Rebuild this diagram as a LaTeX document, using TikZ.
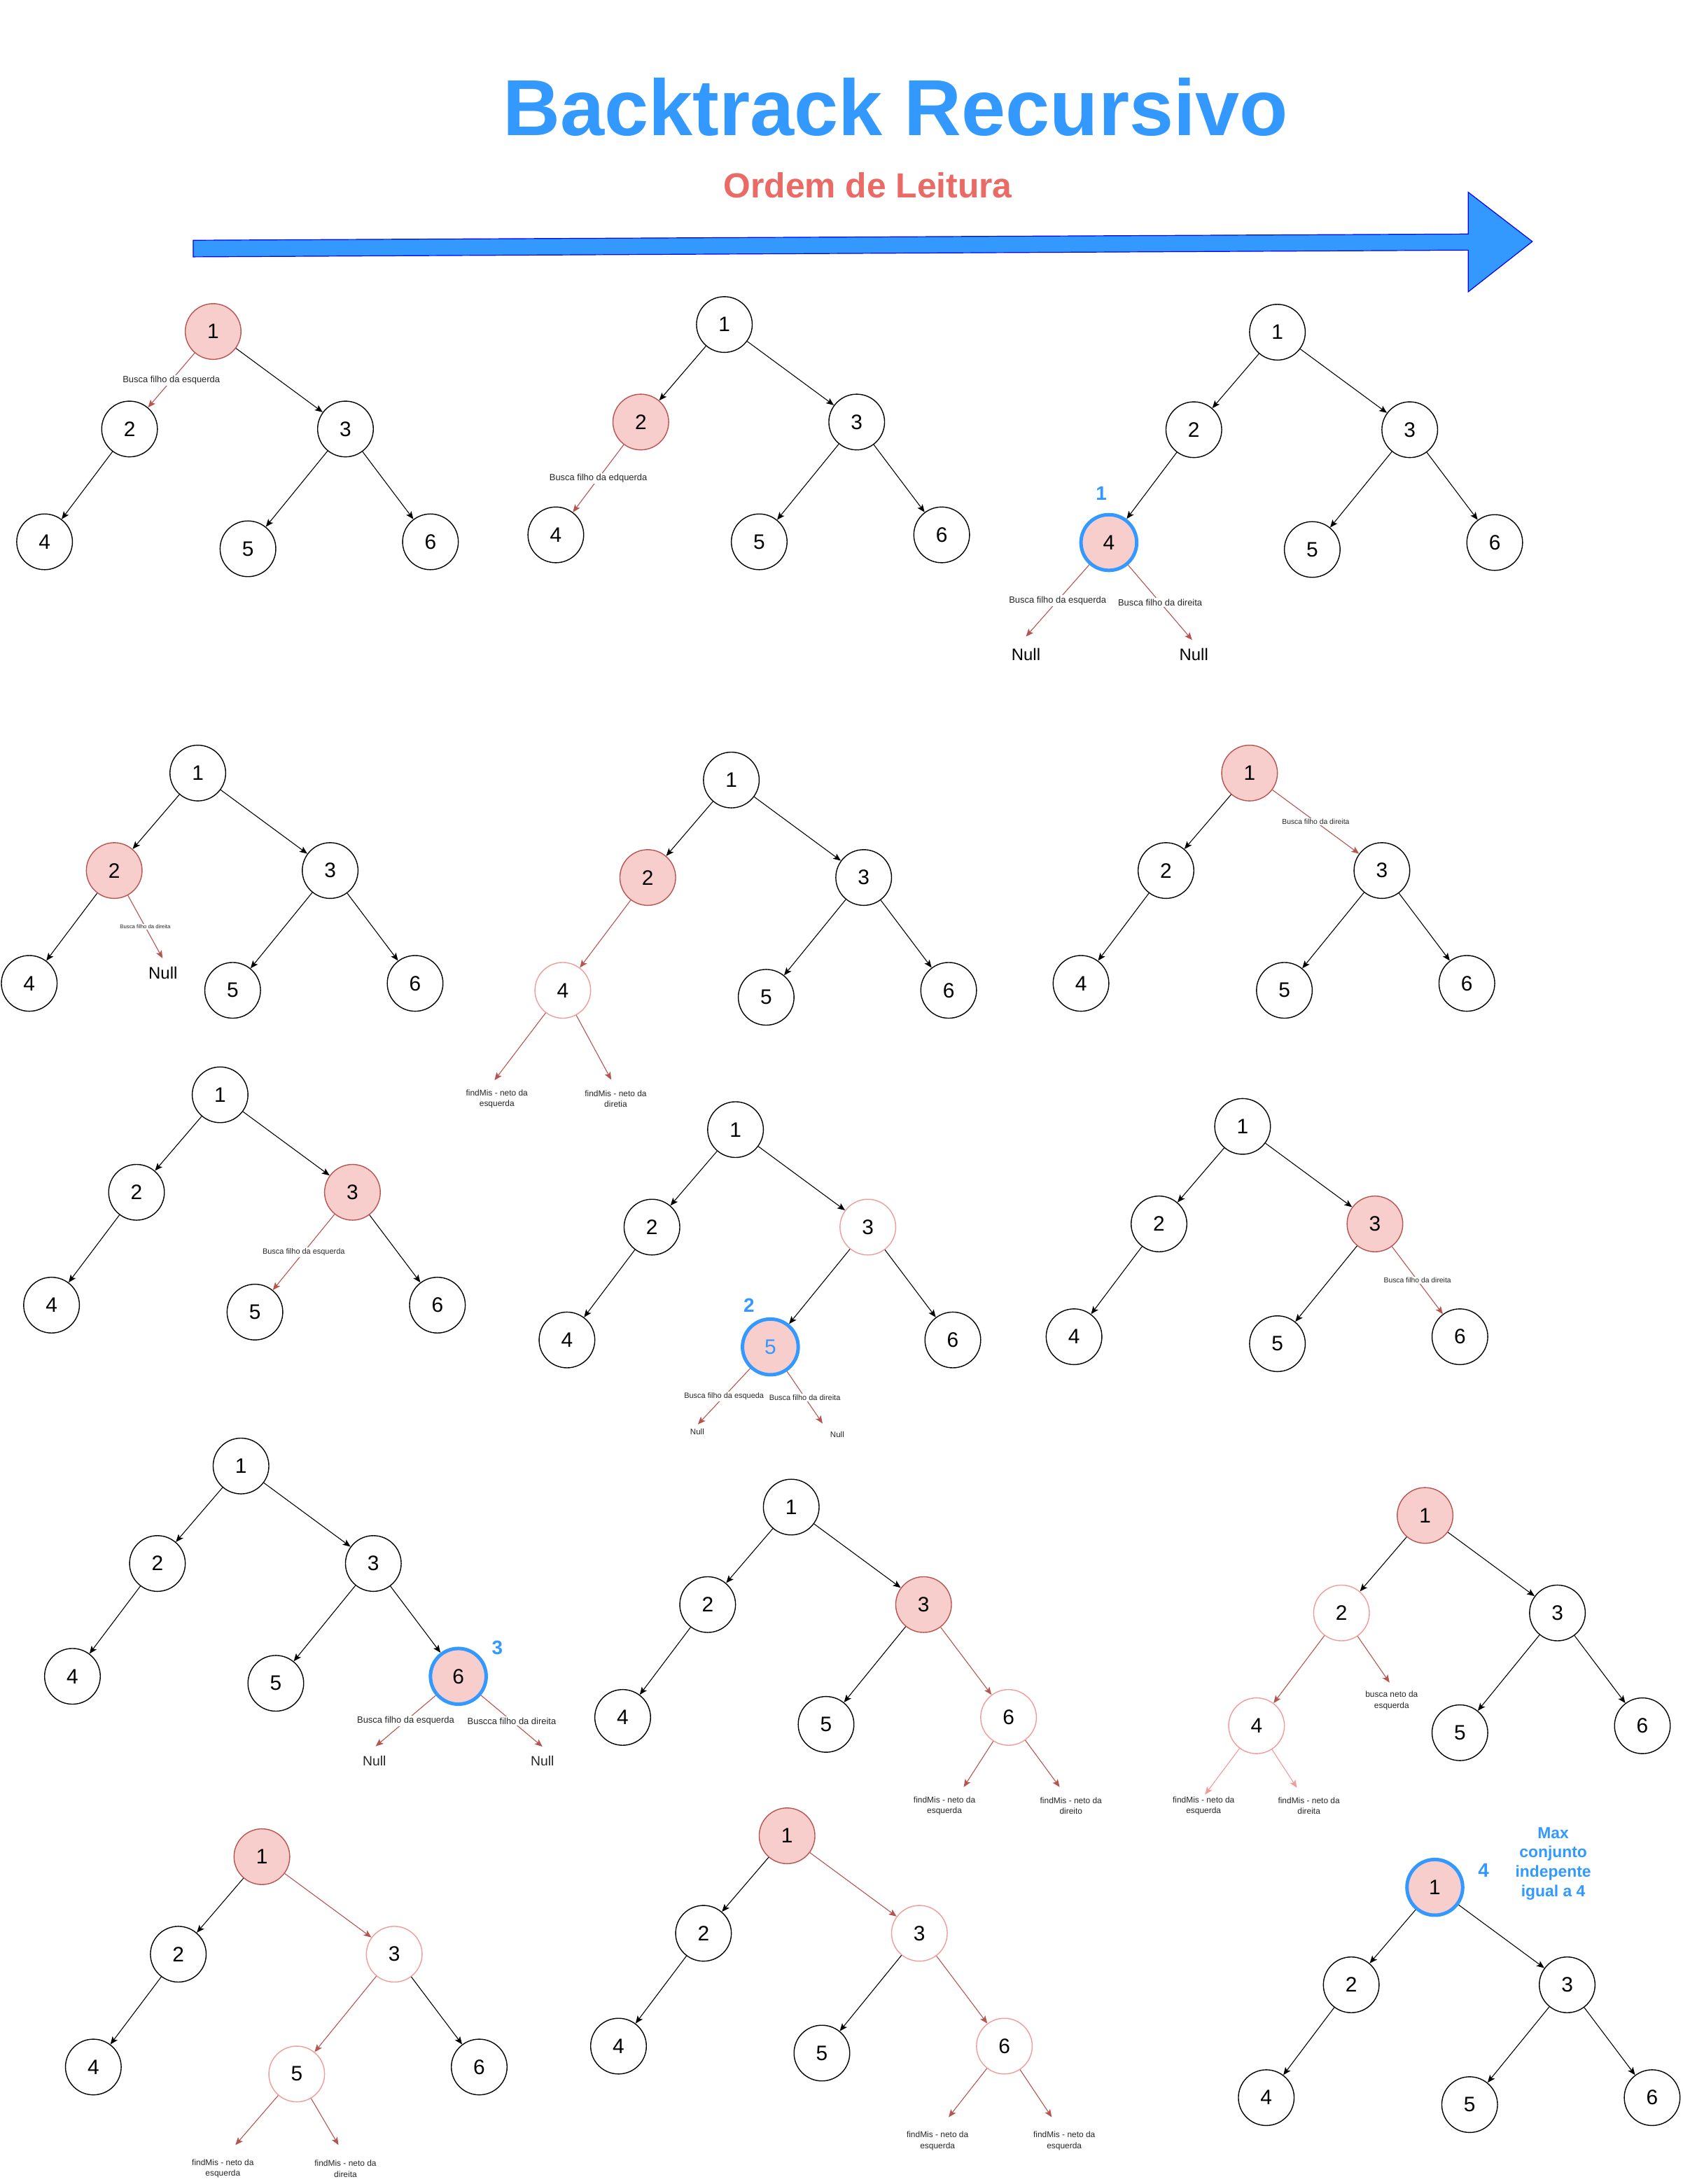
\documentclass[tikz,border=0pt]{standalone}
\usepackage{fontspec}
\setmainfont{Liberation Sans}
\usetikzlibrary{arrows.meta}
\definecolor{pinkF}{HTML}{F8CECC}
\definecolor{redD}{HTML}{B85450}
\definecolor{lightR}{HTML}{F19C99}
\definecolor{blueB}{HTML}{3399FF}
\definecolor{ordR}{HTML}{EA6B66}
\definecolor{arrS}{HTML}{0000FF}
\newcommand\mktree[9]{%
\begin{scope}[shift={(#2,#3)}]
\node[#4] (#1-1) at (0,0) {1};
\node[#5] (#1-2) at (-60,70) {2};
\node[#6] (#1-3) at (95,70) {3};
\node[#7] (#1-4) at (-121,151) {4};
\node[#8] (#1-5) at (25,156) {5};
\node[#9] (#1-6) at (156,151) {6};
\end{scope}}
\begin{document}
\begin{tikzpicture}[x=1pt,y=-1pt,
 nd/.style={circle,draw=black,line width=0.7pt,minimum size=40pt,inner sep=0pt,fill=white,font=\fontsize{15}{17}\selectfont},
 vis/.style={nd,fill=pinkF,draw=redD},
 cur/.style={nd,fill=pinkF,draw=blueB,line width=2.5pt},
 lr/.style={nd,draw=lightR},
 ed/.style={-{Stealth[length=5.5pt,width=4.5pt,inset=1.2pt]},line width=0.55pt},
 bk/.style={ed,black},
 rd/.style={ed,redD},
 lrd/.style={ed,lightR},
 lab/.style={fill=white,inner sep=0.8pt,text=black!85},
 l65/.style={lab,font=\fontsize{6.5}{7.5}\selectfont},
 l55/.style={lab,font=\fontsize{5.5}{6.5}\selectfont},
 l52/.style={lab,font=\fontsize{5.2}{6.2}\selectfont},
 l39/.style={lab,font=\fontsize{3.9}{4.5}\selectfont},
 fm/.style={inner sep=0pt,align=center,text=black!85,font=\fontsize{6}{7.8}\selectfont},
 nulA/.style={inner sep=0pt,font=\fontsize{12}{14}\selectfont},
 nulJ/.style={inner sep=0pt,font=\fontsize{9.7}{11}\selectfont,text=black!85},
 nulH/.style={inner sep=0pt,font=\fontsize{5.8}{7}\selectfont,text=black!85},
 num/.style={inner sep=0pt,text=blueB,font=\bfseries\fontsize{14}{16}\selectfont}
]
\useasboundingbox (0,0) rectangle (1208,1568);
\fill[white] (0,0) rectangle (1208,1568);

% title
\node[inner sep=0pt,text=blueB,font=\bfseries\fontsize{57}{64}\selectfont] (title) at (643,77) {Backtrack Recursivo};
\node[inner sep=0pt,text=ordR,font=\bfseries\fontsize{25}{28}\selectfont] (ordem) at (623,133) {Ordem de Leitura};
\draw[fill=blueB,draw=arrS,line width=0.6pt,line join=miter]
 (138.7,172.5) -- (1054,168) -- (1054,138) -- (1100,173.4) -- (1054,209.5) -- (1054,179.6) -- (138.7,184.4) -- cycle;

% Tree A
\mktree{A}{153}{238}{vis}{nd}{nd}{nd}{nd}{nd}
\draw[rd] (A-1) -- node[l65]{Busca filho da esquerda} (A-2);
\draw[bk] (A-1) -- (A-3);
\draw[bk] (A-2) -- (A-4);
\draw[bk] (A-3) -- (A-5);
\draw[bk] (A-3) -- (A-6);

% Tree B
\mktree{B}{520}{233}{nd}{vis}{nd}{nd}{nd}{nd}
\draw[bk] (B-1) -- (B-2);
\draw[bk] (B-1) -- (B-3);
\draw[rd] (B-2) -- node[l65]{Busca filho da edquerda} (B-4);
\draw[bk] (B-3) -- (B-5);
\draw[bk] (B-3) -- (B-6);

% Tree C
\mktree{C}{917}{238.5}{nd}{nd}{nd}{cur}{nd}{nd}
\draw[bk] (C-1) -- (C-2);
\draw[bk] (C-1) -- (C-3);
\draw[bk] (C-2) -- (C-4);
\draw[bk] (C-3) -- (C-5);
\draw[bk] (C-3) -- (C-6);
\coordinate (C-l) at (736.5,457);
\coordinate (C-r) at (855.8,459.5);
\node[nulA] (C-nl) at (736.5,470) {Null};
\node[nulA] (C-nr) at (857,470) {Null};
\draw[rd] (C-4) -- node[l65]{Busca filho da esquerda} (C-l);
\draw[rd] (C-4) -- node[l65]{Busca filho da direita} (C-r);
\node[num] (C-n) at (790.6,354.3) {1};

% Tree D
\mktree{D}{142}{555}{nd}{vis}{nd}{nd}{nd}{nd}
\draw[bk] (D-1) -- (D-2);
\draw[bk] (D-1) -- (D-3);
\draw[bk] (D-2) -- (D-4);
\draw[bk] (D-3) -- (D-5);
\draw[bk] (D-3) -- (D-6);
\coordinate (D-r) at (116.7,688);
\node[nulA] (D-nr) at (117,698.5) {Null};
\draw[rd] (D-2) -- node[l39]{Busca filho da direita} (D-r);

% Tree E
\mktree{E}{525}{560}{nd}{vis}{nd}{lr}{nd}{nd}
\draw[bk] (E-1) -- (E-2);
\draw[bk] (E-1) -- (E-3);
\draw[rd] (E-2) -- (E-4);
\draw[bk] (E-3) -- (E-5);
\draw[bk] (E-3) -- (E-6);
\coordinate (E-l) at (355,775.5);
\coordinate (E-r) at (438.8,775.2);
\node[fm] (E-tl) at (356.7,789) {findMis - neto da\\esquerda};
\node[fm] (E-tr) at (442,789) {findMis - neto da\\diretia};
\draw[rd] (E-4) -- (E-l);
\draw[rd] (E-4) -- (E-r);

% Tree F
\mktree{F}{897}{555}{vis}{nd}{nd}{nd}{nd}{nd}
\draw[bk] (F-1) -- (F-2);
\draw[rd] (F-1) -- node[l52]{Busca filho da direita} (F-3);
\draw[bk] (F-2) -- (F-4);
\draw[bk] (F-3) -- (F-5);
\draw[bk] (F-3) -- (F-6);

% Tree G
\mktree{G}{158}{786}{nd}{nd}{vis}{nd}{nd}{nd}
\draw[bk] (G-1) -- (G-2);
\draw[bk] (G-1) -- (G-3);
\draw[bk] (G-2) -- (G-4);
\draw[rd] (G-3) -- node[l55]{Busca filho da esquerda} (G-5);
\draw[bk] (G-3) -- (G-6);

% Tree H
\mktree{H}{528}{811}{nd}{nd}{lr}{nd}{cur,text=blueB}{nd}
\draw[bk] (H-1) -- (H-2);
\draw[bk] (H-1) -- (H-3);
\draw[bk] (H-2) -- (H-4);
\draw[bk] (H-3) -- (H-5);
\draw[bk] (H-3) -- (H-6);
\coordinate (H-l) at (501,1022.6);
\coordinate (H-r) at (590.5,1022);
\node[nulH] (H-nl) at (500.5,1027.7) {Null};
\node[nulH] (H-nr) at (601,1030) {Null};
\draw[rd] (H-5) -- node[l55]{Busca filho da esqueda} (H-l);
\draw[rd] (H-5) -- node[l55]{Busca filho da direita} (H-r);
\node[num] (H-n) at (537.7,937) {2};

% Tree I
\mktree{I}{892}{808.7}{nd}{nd}{vis}{nd}{nd}{nd}
\draw[bk] (I-1) -- (I-2);
\draw[bk] (I-1) -- (I-3);
\draw[bk] (I-2) -- (I-4);
\draw[bk] (I-3) -- (I-5);
\draw[rd] (I-3) -- node[l52]{Busca filho da direita} (I-6);

% Tree J
\mktree{J}{173}{1052.5}{nd}{nd}{nd}{nd}{nd}{cur}
\draw[bk] (J-1) -- (J-2);
\draw[bk] (J-1) -- (J-3);
\draw[bk] (J-2) -- (J-4);
\draw[bk] (J-3) -- (J-5);
\draw[bk] (J-3) -- (J-6);
\coordinate (J-l) at (269.7,1253.7);
\coordinate (J-r) at (389.4,1254);
\node[nulJ] (J-nl) at (268.8,1264) {Null};
\node[nulJ] (J-nr) at (389.4,1264) {Null};
\draw[rd] (J-6) -- node[l65]{Busca filho da esquerda} (J-l);
\draw[rd] (J-6) -- node[l65]{Buscca filho da direita} (J-r);
\node[num] (J-n) at (357,1183) {3};

% Tree K
\mktree{K}{568}{1082}{nd}{nd}{vis}{nd}{nd}{lr}
\draw[bk] (K-1) -- (K-2);
\draw[bk] (K-1) -- (K-3);
\draw[bk] (K-2) -- (K-4);
\draw[bk] (K-3) -- (K-5);
\draw[rd] (K-3) -- (K-6);
\coordinate (K-l) at (691.8,1283);
\coordinate (K-r) at (760.7,1283);
\node[fm] (K-tl) at (678,1296.5) {findMis - neto da\\esquerda};
\node[fm] (K-tr) at (768.8,1296.5) {findMis - neto da\\direito};
\draw[rd] (K-6) -- (K-l);
\draw[rd] (K-6) -- (K-r);

% Tree L
\mktree{L}{1023}{1088}{vis}{lr}{nd}{lr}{nd}{nd}
\draw[bk] (L-1) -- (L-2);
\draw[bk] (L-1) -- (L-3);
\draw[rd] (L-2) -- (L-4);
\draw[bk] (L-3) -- (L-5);
\draw[bk] (L-3) -- (L-6);
\coordinate (L-g) at (997.5,1208);
\node[fm] (L-tg) at (999,1221) {busca neto da\\esquerda};
\draw[rd] (L-2) -- (L-g);
\coordinate (L-l) at (865,1288.4);
\coordinate (L-r) at (931,1283.5);
\node[fm] (L-tl) at (864,1296.5) {findMis - neto da\\esquerda};
\node[fm] (L-tr) at (939.6,1296.5) {findMis - neto da\\direita};
\draw[lrd] (L-4) -- (L-l);
\draw[lrd] (L-4) -- (L-r);

% Tree M
\mktree{M}{188}{1333}{vis}{nd}{lr}{nd}{lr}{nd}
\draw[bk] (M-1) -- (M-2);
\draw[rd] (M-1) -- (M-3);
\draw[bk] (M-2) -- (M-4);
\draw[rd] (M-3) -- (M-5);
\draw[bk] (M-3) -- (M-6);
\coordinate (M-l) at (169,1540);
\coordinate (M-r) at (243,1540);
\node[fm] (M-tl) at (160,1557) {findMis - neto da\\esquerda};
\node[fm] (M-tr) at (248,1557) {findMis - neto da\\direita};
\draw[rd] (M-5) -- (M-l);
\draw[rd] (M-5) -- (M-r);

% Tree N
\mktree{N}{565}{1318}{vis}{nd}{lr}{nd}{nd}{lr}
\draw[bk] (N-1) -- (N-2);
\draw[rd] (N-1) -- (N-3);
\draw[bk] (N-2) -- (N-4);
\draw[bk] (N-3) -- (N-5);
\draw[rd] (N-3) -- (N-6);
\coordinate (N-l) at (681,1520);
\coordinate (N-r) at (755,1520);
\node[fm] (N-tl) at (673,1537) {findMis - neto da\\esquerda};
\node[fm] (N-tr) at (764,1537) {findMis - neto da\\esquerda};
\draw[rd] (N-6) -- (N-l);
\draw[rd] (N-6) -- (N-r);

% Tree O
\mktree{O}{1030}{1355}{cur}{nd}{nd}{nd}{nd}{nd}
\draw[bk] (O-1) -- (O-2);
\draw[bk] (O-1) -- (O-3);
\draw[bk] (O-2) -- (O-4);
\draw[bk] (O-3) -- (O-5);
\draw[bk] (O-3) -- (O-6);
\node[num] (O-n) at (1065,1343) {4};
\node[inner sep=0pt,align=center,text=blueB,font=\bfseries\fontsize{11.5}{14}\selectfont] (O-max) at (1115,1338) {Max\\conjunto\\indepente\\igual a 4};
\end{tikzpicture}
\end{document}
